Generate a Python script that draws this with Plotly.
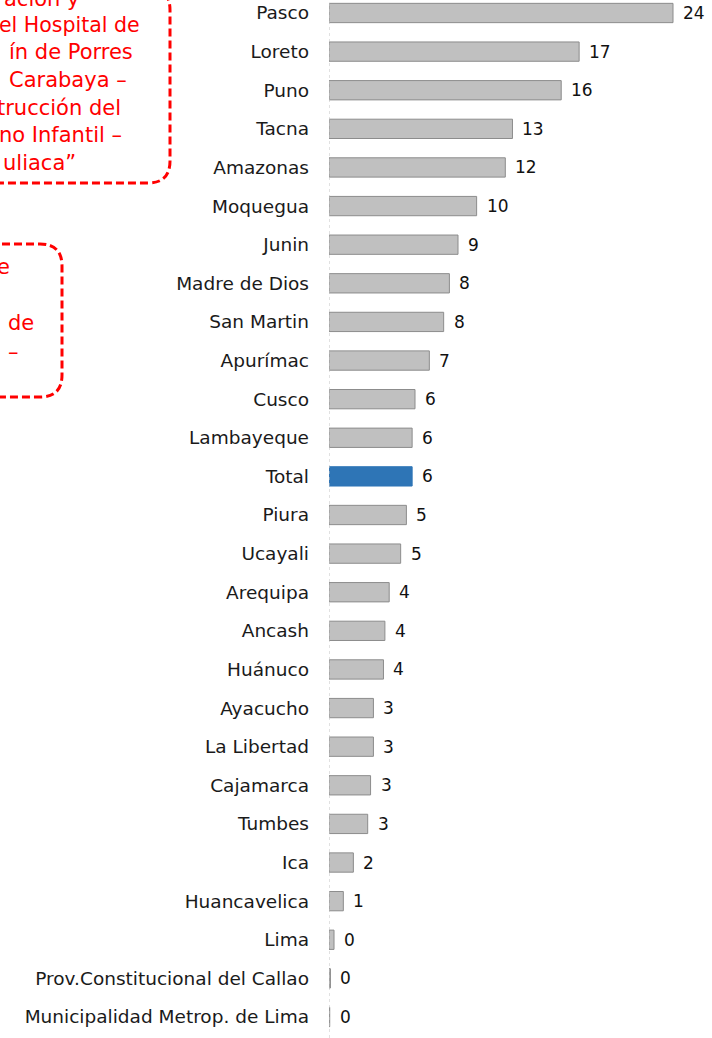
import plotly.graph_objects as go

# Regions, top to bottom, and their values
regiones = [
    "Pasco", "Loreto", "Puno", "Tacna", "Amazonas", "Moquegua", "Junin",
    "Madre de Dios", "San Martin", "Apurímac", "Cusco", "Lambayeque", "Total",
    "Piura", "Ucayali", "Arequipa", "Ancash", "Huánuco", "Ayacucho",
    "La Libertad", "Cajamarca", "Tumbes", "Ica", "Huancavelica", "Lima",
    "Prov.Constitucional del Callao", "Municipalidad Metrop. de Lima",
]
valores = [
    24.0, 17.45, 16.2, 12.8, 12.3, 10.3, 9.0, 8.4, 8.0, 7.0, 6.0, 5.8, 5.8,
    5.4, 5.0, 4.2, 3.9, 3.8, 3.1, 3.1, 2.9, 2.7, 1.7, 1.0, 0.35, 0.1, 0.05,
]
destacado = "Total"

# Red callout texts, as far as they reach into the page
nota1 = [
    "ación y",
    "el Hospital de",
    "ín de Porres",
    "Carabaya –",
    "trucción del",
    "no Infantil –",
    "uliaca”",
]
nota2 = ["e", "de", "–"]

W, H = 712, 1038
ML = 329
PW = W - ML
X_MAX = 26.72
ROW = 38.615
Y_TOP = 13.0

gris, borde, azul = "#c0c0c0", "#8c8c8c", "#2e75b6"
rojo = "#ff0000"
fuente = "DejaVu Sans"

fill = [azul if r == destacado else gris for r in regiones]
line = [azul if r == destacado else borde for r in regiones]

fig = go.Figure(
    go.Bar(
        x=valores,
        y=regiones,
        orientation="h",
        width=0.5,
        marker=dict(color=fill, line=dict(color=line, width=1)),
        hoverinfo="x+y",
    )
)

# value labels to the right of each bar
for r, v in zip(regiones, valores):
    fig.add_annotation(
        x=v, y=r, xref="x", yref="y", text=f"{v:.0f}", showarrow=False,
        xanchor="left", yanchor="middle", xshift=8,
        font=dict(family=fuente, size=17, color="#111111"),
    )


def px_x(px):
    return (px - ML) / PW


def px_y(py):
    return 1 - py / H


def rounded_box(x0, y0, x1, y1, r):
    # rounded rectangle in pixel units converted to paper coordinates
    X = px_x
    Y = px_y
    return (
        f"M {X(x0 + r)},{Y(y0)} L {X(x1 - r)},{Y(y0)} "
        f"Q {X(x1)},{Y(y0)} {X(x1)},{Y(y0 + r)} "
        f"L {X(x1)},{Y(y1 - r)} Q {X(x1)},{Y(y1)} {X(x1 - r)},{Y(y1)} "
        f"L {X(x0 + r)},{Y(y1)} Q {X(x0)},{Y(y1)} {X(x0)},{Y(y1 - r)} "
        f"L {X(x0)},{Y(y0 + r)} Q {X(x0)},{Y(y0)} {X(x0 + r)},{Y(y0)} Z"
    )


for box in [(-120, -12, 170, 183), (-200, 244, 62, 397)]:
    fig.add_shape(
        type="path", xref="paper", yref="paper",
        path=rounded_box(*box, 22),
        line=dict(color=rojo, width=3, dash="8px,4px"),
        fillcolor="rgba(0,0,0,0)",
    )

ends1 = [80, 140, 133, 127, 121, 122, 76]
sizes1 = [21, 20.5, 21, 21, 21, 21, 21]
rows1 = [-1, 25, 52.5, 80, 107.5, 135, 162.5]
for t, xe, yc, fs in zip(nota1, ends1, rows1, sizes1):
    fig.add_annotation(
        x=px_x(xe + 2), y=px_y(yc), xref="paper", yref="paper", text=t,
        showarrow=False, xanchor="right", yanchor="middle",
        font=dict(family=fuente, size=fs, color=rojo),
    )

ends2 = [10, 34, 19]
rows2 = [267, 323, 352]
for t, xe, yc in zip(nota2, ends2, rows2):
    fig.add_annotation(
        x=px_x(xe + 2), y=px_y(yc), xref="paper", yref="paper", text=t,
        showarrow=False, xanchor="right", yanchor="middle",
        font=dict(family=fuente, size=21, color=rojo),
    )

# dotted baseline at zero
fig.add_shape(
    type="line", xref="x", yref="paper", x0=0, x1=0, y0=0, y1=1,
    line=dict(color="#c4c4c4", width=1, dash="dot"),
)

fig.update_layout(
    width=W, height=H,
    margin=dict(l=ML, r=0, t=0, b=0),
    paper_bgcolor="white", plot_bgcolor="white",
    showlegend=False,
    xaxis=dict(visible=False, range=[0, X_MAX], fixedrange=True),
    yaxis=dict(
        type="category", categoryorder="array", categoryarray=regiones,
        range=[(H - Y_TOP) / ROW, -Y_TOP / ROW],
        showgrid=False, zeroline=False, showline=False, ticks="",
        ticklabelstandoff=19,
        tickfont=dict(family=fuente, size=18.5, color="#1a1a1a"),
    ),
    font=dict(family=fuente),
)

fig.write_html("out.html")
